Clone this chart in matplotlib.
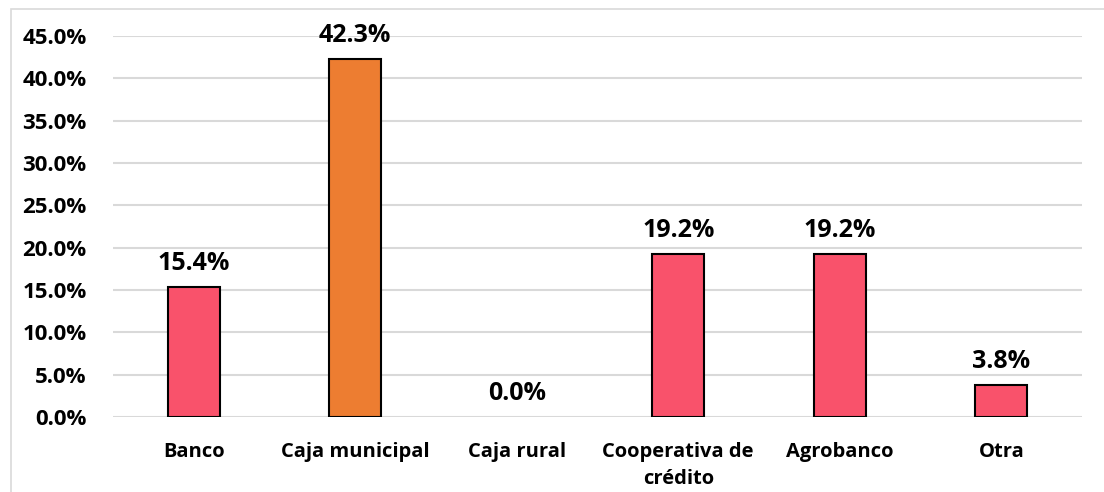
import matplotlib.pyplot as plt
from matplotlib.patches import Rectangle
from matplotlib.ticker import FuncFormatter

# Data
categories = ['Banco', 'Caja municipal', 'Caja rural', 'Cooperativa de\ncrédito', 'Agrobanco', 'Otra']
values = [15.4, 42.3, 0.0, 19.2, 19.2, 3.8]
colors = ['#F9526B', '#ED7D31', '#F9526B', '#F9526B', '#F9526B', '#F9526B']

plt.rcParams['font.family'] = ['Open Sans', 'DejaVu Sans']
plt.rcParams['font.weight'] = 'bold'

fig = plt.figure(figsize=(11.04, 4.92), dpi=100)
ax = fig.add_axes([113 / 1104, 1 - 417 / 492, (1082 - 113) / 1104, (417 - 36) / 492])

# Outer chart border
fig.patches.append(Rectangle((11 / 1104, -0.2), 1.2, 1.2 - 9 / 492, transform=fig.transFigure,
                             fill=False, edgecolor='#D9D9D9', linewidth=1.2))

x = range(len(categories))
edges = ['black' if v > 0 else 'none' for v in values]
bars = ax.bar(x, values, width=0.32, color=colors, edgecolor=edges, linewidth=1.5, zorder=3)

for b, v in zip(bars, values):
    ax.annotate(f'{v:.1f}%', (b.get_x() + b.get_width() / 2, v),
                xytext=(0, 8), textcoords='offset points',
                ha='center', va='bottom', fontsize=18, fontweight='bold')

ax.set_ylim(0, 45)
ax.set_xlim(-0.5, len(categories) - 0.5)
ax.set_yticks([0, 5, 10, 15, 20, 25, 30, 35, 40, 45])
ax.yaxis.set_major_formatter(FuncFormatter(lambda v, p: f'{v:.1f}%'))
ax.set_xticks(list(x))
ax.set_xticklabels(categories, fontsize=14.5, fontweight='bold', linespacing=1.5)
ax.tick_params(axis='y', labelsize=16, length=0, pad=19)
ax.tick_params(axis='x', length=0, pad=18)
for lbl in ax.get_yticklabels():
    lbl.set_fontweight('bold')

ax.grid(axis='y', color='#D9D9D9', linewidth=1.5, zorder=0)
ax.set_axisbelow(True)
for s in ax.spines.values():
    s.set_visible(False)

fig.savefig('out.png', dpi=100)
